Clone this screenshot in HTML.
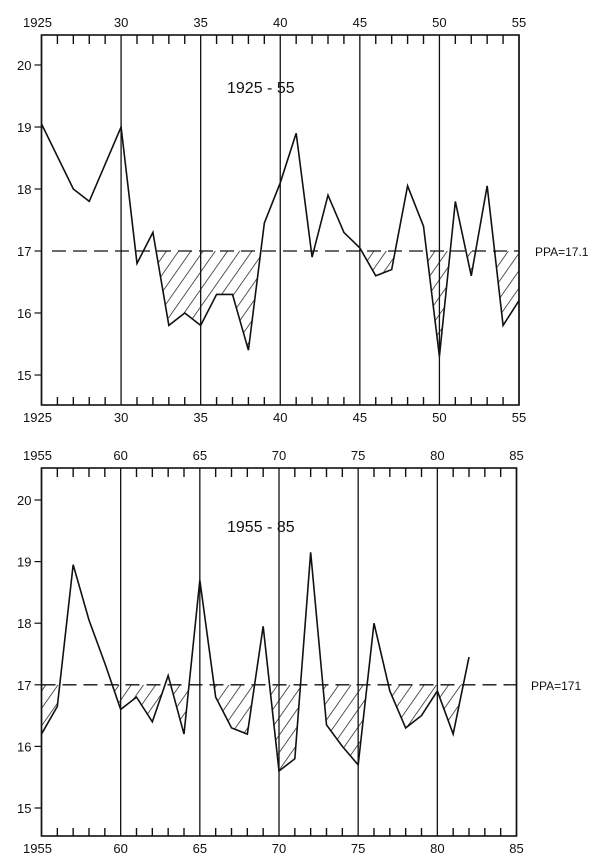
<!DOCTYPE html>
<html><head><meta charset="utf-8"><style>
html,body{margin:0;padding:0;background:#fff;}
svg{display:block;font-family:"Liberation Sans",sans-serif;}
</style></head><body>
<svg id="s" width="600" height="866" viewBox="0 0 600 866" xmlns="http://www.w3.org/2000/svg">
<defs>
<pattern id="h" patternUnits="userSpaceOnUse" width="10" height="10" patternTransform="rotate(35)">
<line x1="0" y1="0" x2="0" y2="10" stroke="#111" stroke-width="1.4"/>
</pattern>
</defs>
</svg>
<script>
var NS="http://www.w3.org/2000/svg",S=document.getElementById('s');
function el(t,a,p){var e=document.createElementNS(NS,t);for(var k in a)e.setAttribute(k,a[k]);(p||S).appendChild(e);return e;}
function txt(x,y,s,sz,anc){var t=el('text',{x:x,y:y,'font-size':sz,'text-anchor':anc||'middle',fill:'#111'});t.textContent=s;}
function chart(o){
 var X=function(yr){return o.L+(yr-o.y0)*(o.R-o.L)/30;};
 var Y=function(v){return o.y20+(20-v)*o.u;};
 var id='c'+o.y0;
 var cp=el('clipPath',{id:id});
 o.hatch.forEach(function(r){el('rect',{x:X(r[0]),y:Y(17),width:X(r[1])-X(r[0]),height:200},cp);});
 var pts=o.d.map(function(p){return X(p[0])+','+Y(p[1]);}).join(' ');
 var poly=X(o.d[0][0])+','+Y(17)+' '+pts+' '+X(o.d[o.d.length-1][0])+','+Y(17);
 el('polygon',{points:poly,fill:'url(#h)','clip-path':'url(#'+id+')'});
 el('line',{x1:o.dl,y1:Y(17),x2:o.R,y2:Y(17),stroke:'#111','stroke-width':1.3,'stroke-dasharray':'14,7'});
 el('rect',{x:o.L,y:o.T,width:o.R-o.L,height:o.B-o.T,fill:'none',stroke:'#111','stroke-width':1.6});
 for(var i=0;i<=30;i++){var x=X(o.y0+i);
  if(i%5==0){el('line',{x1:x,y1:o.T,x2:x,y2:o.B,stroke:'#111','stroke-width':1.3});}
  else{el('line',{x1:x,y1:o.T,x2:x,y2:o.T+9,stroke:'#111','stroke-width':1.4});el('line',{x1:x,y1:o.B-8,x2:x,y2:o.B,stroke:'#111','stroke-width':1.4});}
 }
 for(var v=15;v<=20;v++){el('line',{x1:o.L-7,y1:Y(v),x2:o.L,y2:Y(v),stroke:'#111','stroke-width':1.2});txt(o.L-10,Y(v)+5,v,13,'end');}
 var labs=o.y0==1925?['1925','30','35','40','45','50','55']:['1955','60','65','70','75','80','85'];
 for(var i=0;i<7;i++){var x=X(o.y0+i*5);txt(i==0?x-4:x,o.T-8,labs[i],13);txt(i==0?x-4:x,o.B+17,labs[i],13);}
 el('polyline',{points:pts,fill:'none',stroke:'#111','stroke-width':1.6,'stroke-linejoin':'miter'});
 txt(227,o.ty,o.title,16,'start');
 txt(o.px,Y(17)+5,o.ppa,12,'start');
}
chart({y0:1925,L:41.5,R:519,T:35,B:405,y20:65,u:62,dl:52,ty:93,title:'1925 - 55',px:535,ppa:'PPA=17.1',
 d:[[1925,19.05],[1927,18],[1928,17.8],[1930,19],[1931,16.8],[1932,17.3],[1933,15.8],[1934,16],[1935,15.8],[1936,16.3],[1937,16.3],[1938,15.4],[1939,17.45],[1940,18.1],[1941,18.9],[1942,16.9],[1943,17.9],[1944,17.3],[1945,17.05],[1946,16.6],[1947,16.7],[1948,18.05],[1949,17.4],[1950,15.3],[1951,17.8],[1952,16.6],[1953,18.05],[1954,15.8],[1955,16.2]],
 hatch:[[1932,1940],[1945,1948],[1949,1951],[1951.5,1953],[1953,1955]]});
chart({y0:1955,L:41.5,R:516.5,T:468,B:836,y20:500,u:61.6,dl:41.5,ty:532,title:'1955 - 85',px:531,ppa:'PPA=171',
 d:[[1955,16.2],[1956,16.65],[1957,18.95],[1958,18.05],[1959,17.35],[1960,16.6],[1961,16.8],[1962,16.4],[1963,17.15],[1964,16.2],[1965,18.7],[1966,16.8],[1967,16.3],[1968,16.2],[1969,17.95],[1970,15.6],[1971,15.8],[1972,19.15],[1973,16.35],[1974,16],[1975,15.7],[1976,18],[1977,16.9],[1978,16.3],[1979,16.5],[1980,16.9],[1981,16.2],[1982,17.45]],
 hatch:[[1955,1985]]});
</script>
</body></html>
